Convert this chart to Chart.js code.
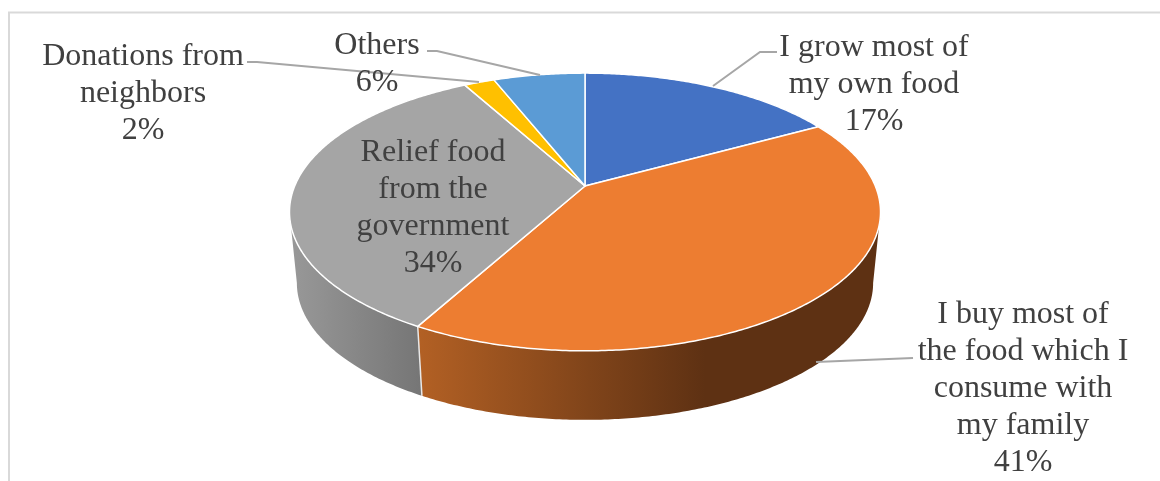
<!DOCTYPE html>
<html>
<head>
<meta charset="utf-8">
<style>
    html, body { margin: 0; padding: 0; background: #fff; }
    canvas { display: block; }
</style>
<script src="https://cdn.jsdelivr.net/npm/chart.js@4/dist/chart.umd.js"></script>
</head>
<body>
<canvas id="foodChart" width="1160" height="481"></canvas>
<script>
const categories = [
    'I grow most of my own food',
    'I buy most of the food which I consume with my family',
    'Relief food from the government',
    'Donations from neighbors',
    'Others'
];
const shares = [17, 41, 34, 2, 6];
const sliceColors = ['#4472C4', '#ED7D31', '#A5A5A5', '#FFC000', '#5B9BD5'];

// label text wrapped by line, same order as categories
const labelLines = [
    ['I grow most of', 'my own food'],
    ['I buy most of', 'the food which I', 'consume with', 'my family'],
    ['Relief food', 'from the', 'government'],
    ['Donations from', 'neighbors'],
    ['Others']
];
// center x and first line y of each label
const labelSpots = [[874, 48], [1023, 315], [433, 153], [143, 57], [377, 46]];
const lineGap = 36.8;

// leader lines, slice end first
const leaders = [
    [[713, 86], [760, 52], [777, 52]],
    [[816, 362], [913, 358]],
    null,
    [[479, 82], [257, 62], [247, 62]],
    [[540, 75], [437, 51], [427, 51]]
];

// tilted disc: perspective projection of the unit circle
const disc = { cx: 585, cy: 186, a: 290.3, b: 134, p: 0.187 };
const base = { dy: 71.5, sx: 0.975, sy: 0.985 };

function topPoint(angle) {
    const u = Math.cos(angle), v = Math.sin(angle);
    const w = 1 - disc.p * v;
    return [disc.cx + disc.a * u / w, disc.cy + disc.b * v / w];
}

function basePoint(angle) {
    const u = Math.cos(angle), v = Math.sin(angle);
    const w = 1 - disc.p * v;
    return [disc.cx + base.sx * disc.a * u / w, disc.cy + base.dy + base.sy * disc.b * v / w];
}

function rimPath(ctx, pointAt, from, to, started) {
    const steps = Math.max(2, Math.ceil(Math.abs(to - from) / 0.01));
    for (let i = 0; i <= steps; i++) {
        const pt = pointAt(from + (to - from) * i / steps);
        if (i === 0 && !started) ctx.moveTo(pt[0], pt[1]);
        else ctx.lineTo(pt[0], pt[1]);
    }
}

// side wall of one slice, only the part facing the viewer
function drawWall(ctx, arc, stops) {
    const frontStart = Math.asin(disc.p);
    const frontEnd = Math.PI - frontStart;
    const from = Math.max(arc.startAngle, frontStart);
    const to = Math.min(arc.endAngle, frontEnd);
    if (to <= from) return;

    const grad = ctx.createLinearGradient(stops.x0, 0, stops.x1, 0);
    stops.colors.forEach((c, i) => grad.addColorStop(i / (stops.colors.length - 1), c));
    ctx.beginPath();
    rimPath(ctx, topPoint, from, to, false);
    rimPath(ctx, basePoint, to, from, true);
    ctx.closePath();
    ctx.fillStyle = grad;
    ctx.fill();
}

const tiltedPie = {
    id: 'tiltedPie',
    // the arcs are drawn here so they can follow the projected disc
    beforeDatasetDraw(chart) {
        const ctx = chart.ctx;
        const arcs = chart.getDatasetMeta(0).data;
        ctx.save();

        // frame of the chart area
        ctx.strokeStyle = '#D9D9D9';
        ctx.lineWidth = 2;
        ctx.beginPath();
        ctx.moveTo(9, 481);
        ctx.lineTo(9, 12.5);
        ctx.lineTo(1160, 12.5);
        ctx.stroke();

        drawWall(ctx, arcs[2], { x0: 296, x1: 420, colors: ['#979797', '#767676'] });
        drawWall(ctx, arcs[1], { x0: 420, x1: 705, colors: ['#B26024', '#5E3113'] });

        // white seam between the two walls
        const seamTop = topPoint(arcs[1].endAngle);
        const seamBase = basePoint(arcs[1].endAngle);
        ctx.strokeStyle = '#E8E8E8';
        ctx.lineWidth = 1.5;
        ctx.beginPath();
        ctx.moveTo(seamTop[0], seamTop[1]);
        ctx.lineTo(seamBase[0], seamBase[1]);
        ctx.stroke();

        arcs.forEach((arc, i) => {
            ctx.beginPath();
            ctx.moveTo(disc.cx, disc.cy);
            rimPath(ctx, topPoint, arc.startAngle, arc.endAngle, true);
            ctx.closePath();
            ctx.fillStyle = sliceColors[i];
            ctx.fill();
            ctx.strokeStyle = '#FFFFFF';
            ctx.lineWidth = 1.5;
            ctx.lineJoin = 'round';
            ctx.stroke();
        });

        ctx.restore();
        return false;
    },
    afterDatasetsDraw(chart) {
        const ctx = chart.ctx;
        ctx.save();

        ctx.strokeStyle = '#A6A6A6';
        ctx.lineWidth = 2;
        leaders.forEach(points => {
            if (!points) return;
            ctx.beginPath();
            points.forEach((pt, i) => {
                if (i === 0) ctx.moveTo(pt[0], pt[1]);
                else ctx.lineTo(pt[0], pt[1]);
            });
            ctx.stroke();
        });

        ctx.font = '32px "Liberation Serif"';
        ctx.fillStyle = '#404040';
        ctx.textAlign = 'center';
        ctx.textBaseline = 'middle';
        labelLines.forEach((lines, i) => {
            const rows = lines.concat(shares[i] + '%');
            rows.forEach((row, r) => {
                ctx.fillText(row, labelSpots[i][0], labelSpots[i][1] + r * lineGap);
            });
        });

        ctx.restore();
    }
};

new Chart(document.getElementById('foodChart'), {
    type: 'pie',
    data: {
        labels: categories,
        datasets: [{
            data: shares,
            backgroundColor: sliceColors,
            borderColor: '#FFFFFF'
        }]
    },
    options: {
        responsive: false,
        animation: false,
        plugins: {
            legend: { display: false },
            tooltip: { enabled: false }
        }
    },
    plugins: [tiltedPie]
});
</script>
</body>
</html>
